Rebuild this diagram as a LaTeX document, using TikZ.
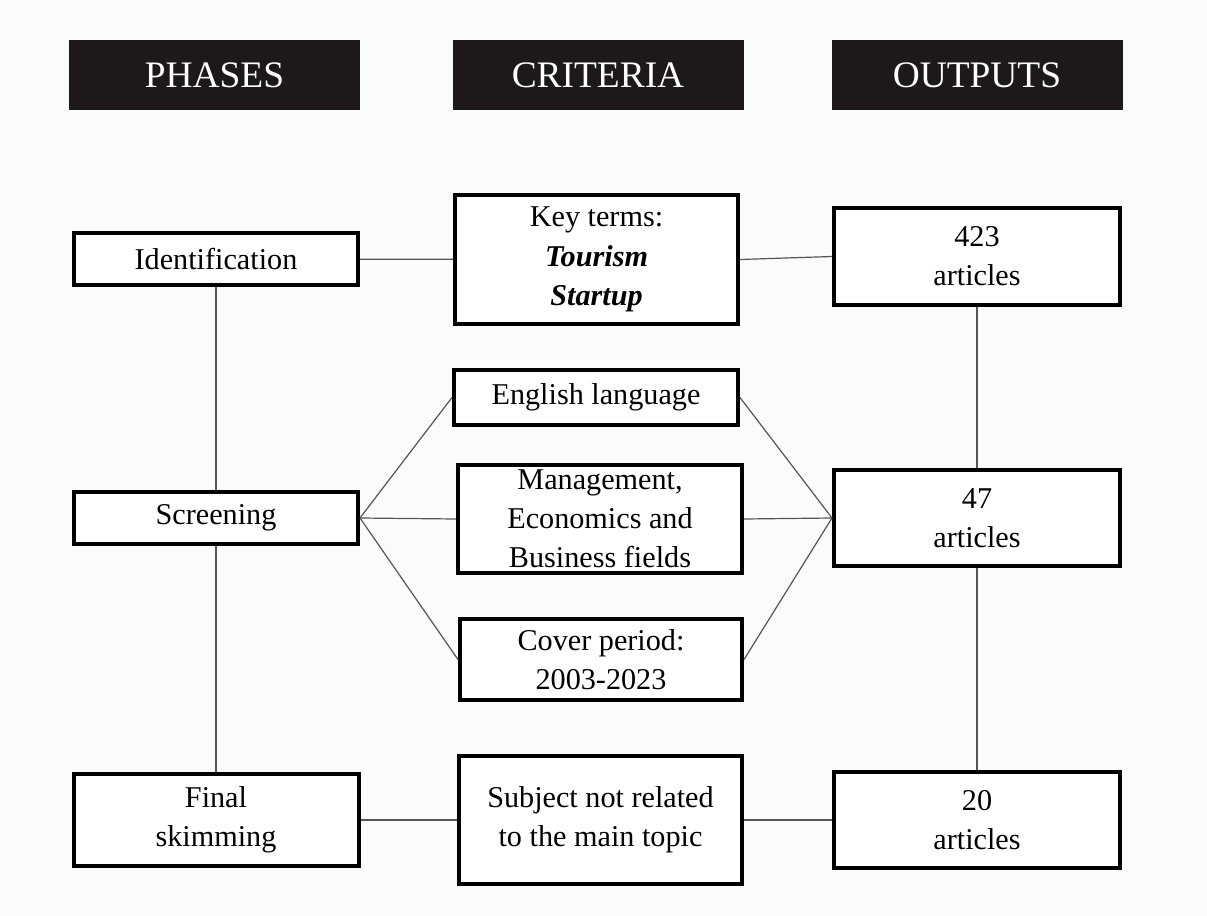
\documentclass[tikz,border=0pt]{standalone}
\usepackage{fontspec}
\setmainfont{Liberation Serif}
\usepackage{tikz}
\usetikzlibrary{positioning}
\definecolor{pagebg}{HTML}{FAFBFD}
\definecolor{headfill}{HTML}{1E1919}
\definecolor{linkgray}{HTML}{555555}
\tikzstyle{header}=[rectangle,fill=headfill,text=white,inner sep=0pt,minimum width=145.5pt,minimum height=35pt,font=\fontsize{18.7}{22}\selectfont]
\tikzstyle{stagebox}=[rectangle,line width=2pt,draw=black,fill=white,align=center,inner sep=0pt,font=\fontsize{15.1}{19.6}\selectfont]
\tikzstyle{link}=[draw=linkgray,line width=0.6pt]

\begin{document}
\begin{tikzpicture}[x=0.5pt,y=-0.5pt]

    \useasboundingbox[fill=pagebg] (0,0) rectangle (1207,916);

    % column headers
    \node[header] (Hphase) at (214.5,75) {PHASES};
    \node[header] (Hcrit)  at (598,75)   {CRITERIA};
    \node[header] (Hout)   at (977,75)   {OUTPUTS};

    % phases
    \node[stagebox, minimum width=142pt, minimum height=26pt] (P1) at (216,259) {Identification};
    \node[stagebox, minimum width=142pt, minimum height=26pt] (P2) at (216,518) {Screening};
    \node[stagebox, minimum width=142.5pt, minimum height=46pt] (P3) at (216,820) {Final\\skimming};

    % criteria
    \node[stagebox, minimum width=141.5pt, minimum height=64.5pt] (C1) at (596.5,259.5)
        {Key terms:\\\textbf{\textit{Tourism}}\\\textbf{\textit{Startup}}};
    \node[stagebox, minimum width=142pt, minimum height=27.5pt] (C2a) at (596,397.5) {English language};
    \node[stagebox, minimum width=142pt, minimum height=54pt] (C2b) at (600,519)
        {Management,\\Economics and\\Business fields};
    \node[stagebox, minimum width=141pt, minimum height=40.5pt] (C2c) at (601,659.5) {Cover period:\\2003-2023};
    \node[stagebox, minimum width=141.5pt, minimum height=64pt] (C3) at (600.5,820)
        {Subject not related\\to the main topic};

    % outputs
    \node[stagebox, minimum width=143pt, minimum height=48.5pt] (O1) at (977,256.5) {423\\articles};
    \node[stagebox, minimum width=143pt, minimum height=48pt] (O2) at (977,518) {47\\articles};
    \node[stagebox, minimum width=143pt, minimum height=48pt] (O3) at (977,820) {20\\articles};

    \path[link]
        (P1) edge (C1)
        (C1.east) edge (O1.west)
        (P1) edge (P2)
        (P2) edge (P3)
        (O1) edge (O2)
        (O2) edge (O3)
        (P2.east) edge (C2a.west)
                  edge (C2b.west)
                  edge (C2c.west)
        (C2a.east) edge (O2.west)
        (C2b.east) edge (O2.west)
        (C2c.east) edge (O2.west)
        (P3) edge (C3)
        (C3) edge (O3);
\end{tikzpicture}
\end{document}
